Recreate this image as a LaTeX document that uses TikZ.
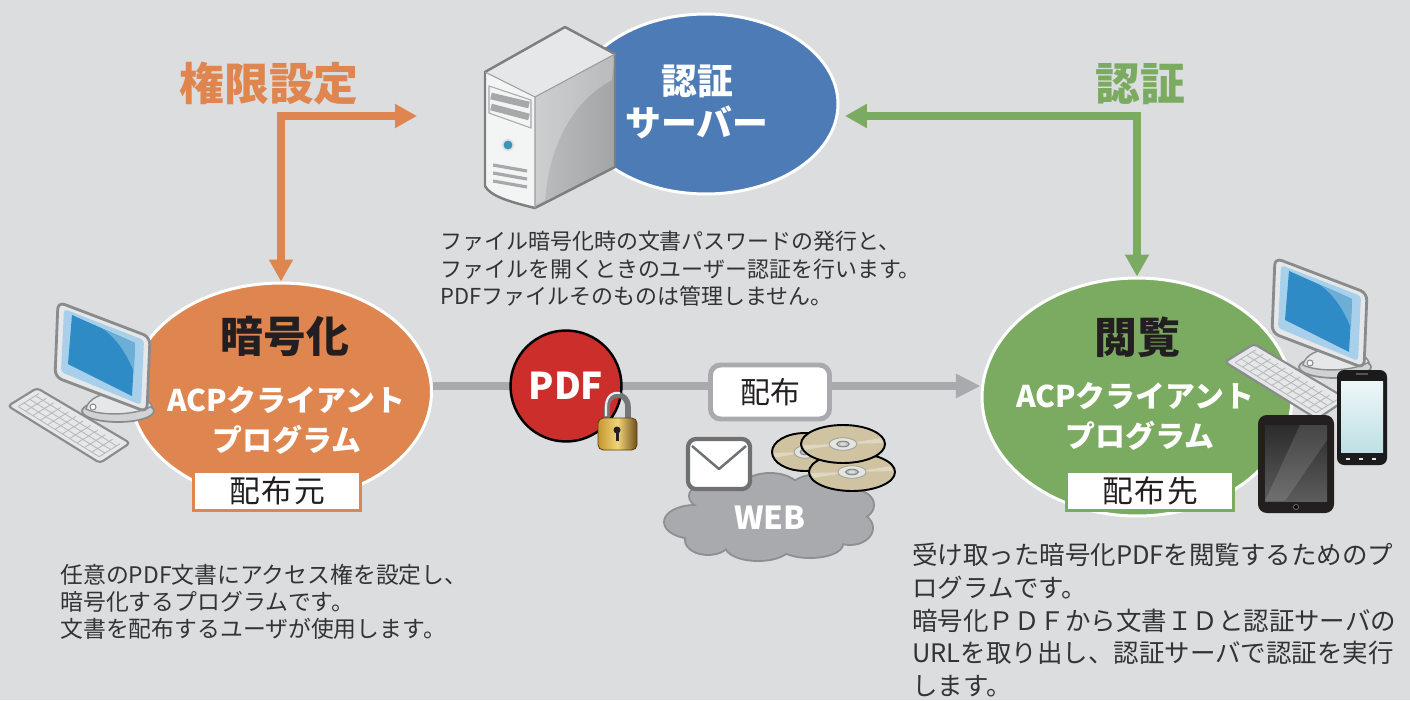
\documentclass[tikz,border=0pt]{standalone}
\usepackage{fontspec}
\setmainfont{Noto Sans CJK JP}
\usetikzlibrary{shapes.geometric,arrows.meta,calc}

\definecolor{bg}{HTML}{DCDDDF}
\definecolor{acpOrange}{HTML}{DF8650}
\definecolor{acpGreen}{HTML}{7BAA61}
\definecolor{acpBlue}{HTML}{4D7BB6}
\definecolor{linkGray}{HTML}{A9AAAD}
\definecolor{pdfRed}{HTML}{CC2E2B}
\definecolor{bodyText}{HTML}{333333}
\definecolor{labelInk}{HTML}{231F20}
\definecolor{frameGray}{HTML}{8A8B8D}
\definecolor{panelGray}{HTML}{E6E7E8}
\definecolor{slotGray}{HTML}{A7A8AA}
\definecolor{screenBlue}{HTML}{2E8BC6}
\definecolor{bezelBlue}{HTML}{A9D0EA}
\definecolor{discBeige}{HTML}{CFC3A2}
\definecolor{goldLeft}{HTML}{C4962F}
\definecolor{goldMid}{HTML}{F1D57A}
\definecolor{goldRight}{HTML}{6E5018}
\definecolor{goldEdge}{HTML}{5A4210}
\definecolor{cloudEdge}{HTML}{8E8F92}
\definecolor{mailGray}{HTML}{6F7072}
\definecolor{hubRing}{HTML}{9FA39B}
\definecolor{hubFace}{HTML}{E4E4E2}
\definecolor{hubEdge}{HTML}{7E807C}
\definecolor{hubCore}{HTML}{BDBFBC}
\definecolor{sideLight}{HTML}{BDBEC0}
\definecolor{sideDark}{HTML}{A3A4A6}
\definecolor{frontFace}{HTML}{F3F4F4}
\definecolor{lampBlue}{HTML}{3E93B8}
\definecolor{lampRing}{HTML}{E0E1E2}
\definecolor{caseEdge}{HTML}{7D7E80}
\definecolor{caseSeam}{HTML}{9A9B9D}
\definecolor{phoneBody}{HTML}{1B1B1B}
\definecolor{phoneTop}{HTML}{EEF7F8}
\definecolor{phoneBottom}{HTML}{BEE0E4}
\definecolor{phoneSlot}{HTML}{555555}
\definecolor{tabBody}{HTML}{231F1F}
\definecolor{tabTop}{HTML}{2C2C2C}
\definecolor{tabBottom}{HTML}{5C5C5C}
\definecolor{tabButton}{HTML}{6A6A6A}

% desktop computer: monitor, stand and keyboard (local pixel coordinates)
\newcommand\desktopicon{%
  % stand
  \draw[frameGray, line width=1pt, fill=panelGray!80!gray]
    (118,411) ellipse [x radius=36, y radius=11];
  \draw[frameGray, line width=0.8pt, fill=panelGray]
    (86,409) .. controls (90,388) and (142,386) .. (152,406)
    .. controls (135,416) and (100,416) .. cycle;
  \draw[frameGray, line width=0.6pt, fill=white] (93,407) circle (3);
  % monitor
  \draw[frameGray, line width=1.6pt, fill=panelGray, rounded corners=4]
    (58,302) -- (150,337) -- (147,412) -- (55,377) -- cycle;
  \fill[bezelBlue, rounded corners=2]
    (64,309) -- (144,340) -- (141,405) -- (61,372) -- cycle;
  \fill[screenBlue] (72,315) -- (135,343) -- (132,396) -- (68,364) -- cycle;
  \fill[screenBlue!70!white]
    (103,329) -- (135,343) -- (134,372) .. controls (126,352) and (116,338) .. cycle;
  % keyboard
  \draw[frameGray, line width=1.2pt, fill=panelGray, rounded corners=2]
    (8,406) -- (37,388) -- (130,443) -- (100,463) -- cycle;
  \foreach \t in {0.16,0.36,0.56,0.76}
    \draw[slotGray!80, line width=0.5pt]
      ({8+92*0.06+29*\t},{406+57*0.06-18*\t}) -- ({8+92*0.94+29*\t},{406+57*0.94-18*\t});
  \foreach \s in {0.06,0.14,...,0.95}
    \draw[slotGray!80, line width=0.5pt]
      ({8+92*\s+29*0.16},{406+57*\s-18*0.16}) -- ({8+92*\s+29*0.88},{406+57*\s-18*0.88});
}

\tikzset{
  bubble/.style={ellipse, draw=white, line width=1.7pt, inner sep=0pt},
  titletext/.style={font=\fontsize{24.4pt}{28pt}\selectfont\bfseries, text=labelInk},
  progtext/.style={font=\fontsize{17pt}{20pt}\selectfont\bfseries, text=white},
  tagbox/.style={draw, fill=white, line width=1.7pt, minimum width=3.34cm,
    minimum height=0.78cm, inner sep=0pt,
    font=\fontsize{17.5pt}{20pt}\selectfont\addfontfeature{LetterSpace=6}, text=labelInk},
  headtext/.style={font=\fontsize{25.5pt}{30pt}\selectfont\bfseries},
  flowline/.style={line width=4.5pt,
    {Triangle[length=12.5pt,width=13pt]}-{Triangle[length=12.5pt,width=13pt]}},
  note/.style={anchor=north west, inner sep=0pt, align=left, text=bodyText},
}

\begin{document}
\begin{tikzpicture}[x=0.02cm,y=-0.02cm]
\fill[bg] (0,0) rectangle (1410,700);
\useasboundingbox (0,0) rectangle (1410,700);

% main bubbles
\node[bubble, fill=acpBlue, minimum width=5.28cm, minimum height=3.6cm] (auth) at (706,104) {};
\node[bubble, fill=acpOrange, minimum width=6.02cm, minimum height=4.36cm] (enc) at (281,392) {};
\node[bubble, fill=acpGreen, minimum width=6.2cm, minimum height=4.76cm] (view) at (1137,397) {};

% permission / authentication arrows
\coordinate (oend) at (417,116);
\coordinate (gend) at (845,116);
\draw[flowline, acpOrange] (enc.north) -- (enc.north |- oend) -- (oend);
\draw[flowline, acpGreen] (gend) -- (view.north |- gend) -- (view.north);
\node[headtext, text=acpOrange] (permLabel) at (269,83) {権限設定};
\node[headtext, text=acpGreen] (authLabel) at (1140,84) {認証};

% distribution link
\node[circle, minimum size=2.22cm, inner sep=0pt] (pdf) at (566,386) {};
\draw[linkGray, line width=5.1pt, -{Triangle[length=14pt,width=13pt]}]
  (enc.east |- pdf.center) -- (view.west |- pdf.center);
\node[circle, fill=pdfRed, draw=black, line width=1.4pt, minimum size=2.22cm, inner sep=0pt,
  font=\fontsize{21pt}{24pt}\selectfont\bfseries, text=white] (pdfT) at (pdf.center) {PDF};
\node[draw=linkGray, line width=2.8pt, fill=white, rounded corners=0.2cm,
  minimum width=2.38cm, minimum height=1.08cm, inner sep=0pt,
  font=\fontsize{17pt}{20pt}\selectfont, text=labelInk] (dist) at (770,392) {配布};

% padlock
\draw[slotGray!70!black, line width=3.2pt]
  (607,420) -- (607,407) .. controls (607,391) and (628,391) .. (628,407) -- (628,420);
\draw[white!85!gray, line width=1.2pt]
  (606,416) -- (606,407) .. controls (606,393) and (616,392) .. (620,393);
\shade[left color=goldLeft, right color=goldRight, middle color=goldMid, rounded corners=3]
  (598,418) rectangle (637,450);
\draw[goldEdge, line width=0.5pt, rounded corners=3] (598,418) rectangle (637,450);
\fill[labelInk] (617,430) circle (3.5);
\fill[labelInk] (615.5,431) rectangle (618.5,441);

% web cloud
\def\cloudparts{
  (770,520) ellipse [x radius=85, y radius=28]
  (695,522) ellipse [x radius=30, y radius=16]
  (708,540) ellipse [x radius=22, y radius=14]
  (758,546) ellipse [x radius=32, y radius=14]
  (810,544) ellipse [x radius=32, y radius=13]
  (850,528) ellipse [x radius=22, y radius=16]
  (855,505) ellipse [x radius=18, y radius=14]
  (820,490) ellipse [x radius=30, y radius=15]
  (770,491) ellipse [x radius=30, y radius=17]
  (720,496) ellipse [x radius=30, y radius=15]}
\draw[cloudEdge, line width=2.2pt] \cloudparts;
\fill[linkGray] \cloudparts;
\node[font=\fontsize{18pt}{22pt}\selectfont\bfseries, text=white] (web) at (770,518) {WEB};

% envelope
\draw[mailGray, line width=2.4pt, fill=white, rounded corners=0.16cm] (688,439) rectangle (750,489);
\draw[mailGray, line width=1.4pt, line join=round] (692,446) -- (719,469) -- (746,446);

% discs
\foreach \cx/\cy/\rx/\ry in {805/452/33/19, 852/472/43/19, 843/444/42/19}{
  \draw[black, line width=1.1pt, fill=discBeige] (\cx,\cy) ellipse [x radius=\rx, y radius=\ry];
  \fill[white, opacity=0.35] (\cx,\cy) -- ({\cx+\rx*0.9},{\cy-\ry*0.3}) -- ({\cx+\rx*0.95},{\cy-\ry*0.05}) -- cycle;
  \fill[white, opacity=0.35] (\cx,\cy) -- ({\cx-\rx*0.9},{\cy+\ry*0.3}) -- ({\cx-\rx*0.95},{\cy+\ry*0.05}) -- cycle;
  \draw[hubRing, line width=0.5pt, fill=hubFace] (\cx,\cy) ellipse [x radius={\rx*0.33}, y radius={\ry*0.33}];
  \draw[hubEdge, line width=0.5pt, fill=hubCore] (\cx,\cy) ellipse [x radius={\rx*0.15}, y radius={\ry*0.15}];
  \fill[bg] (\cx,\cy) ellipse [x radius={\rx*0.07}, y radius={\ry*0.07}];
}

% authentication server
\shade[left color=sideLight, right color=sideDark]
  (535,97) -- (615,54) -- (615,167) -- (535,208) -- cycle;
\fill[white, opacity=0.25] (545,200) .. controls (550,140) and (575,100) .. (612,80) -- (615,54) -- (535,97) -- (535,205) -- cycle;
\fill[panelGray] (485,72) -- (565,27) -- (615,54) -- (535,97) -- cycle;
\fill[frontFace] (485,72) -- (535,97) -- (535,208) .. controls (510,202) and (490,196) .. (485,186) -- cycle;
\draw[slotGray, line width=0.6pt] (489,86) -- (531,100) -- (531,128) -- (489,113) -- cycle;
\draw[slotGray, line width=3.8pt] (491,96) -- (529,105);
\draw[slotGray, line width=3.8pt] (491,107) -- (529,117);
\draw[lampRing, line width=1pt, fill=lampBlue] (508,145) circle (5.5);
\foreach \dy in {0,8,16}
  \draw[slotGray, line width=1.8pt] (493,{165+\dy}) -- (527,{171+\dy});
\draw[caseEdge, line width=1.4pt, line join=round]
  (485,72) -- (565,27) -- (615,54) -- (615,167) -- (535,208)
  .. controls (510,202) and (490,196) .. (485,186) -- cycle;
\draw[caseSeam, line width=0.6pt] (485,72) -- (535,97) -- (615,54) (535,97) -- (535,208);

% client machines
\desktopicon
\begin{scope}[shift={(1217,-44)}]
  \desktopicon
\end{scope}
% smartphone
\fill[phoneBody, rounded corners=4] (1337,370) rectangle (1387,465);
\shade[top color=phoneTop, bottom color=phoneBottom] (1341,381) rectangle (1383,452);
\fill[phoneSlot] (1356,373) rectangle (1368,375);
\foreach \bx in {1348,1361,1374}
  \fill[white!80!gray] ({\bx-2},458) rectangle ({\bx+2},460);
% tablet
\fill[tabBody, rounded corners=5] (1258,415) rectangle (1334,513);
\shade[top color=tabTop, bottom color=tabBottom] (1265,425) rectangle (1327,501);
\fill[white, opacity=0.12] (1265,501) -- (1300,425) -- (1327,425) -- (1327,440) -- (1285,501) -- cycle;
\draw[tabButton, line width=0.5pt, fill=black] (1296,507) circle (2.5);

% bubble captions
\node[font=\fontsize{20.4pt}{24pt}\selectfont\bfseries, text=white] (authT1) at (697,81) {認証};
\node[font=\fontsize{20.4pt}{24pt}\selectfont\bfseries, text=white] (authT2) at (697,122) {サーバー};

\node[titletext] (encTitle) at (285,336) {暗号化};
\node[progtext] (encProg1) at (286,400) {ACPクライアント};
\node[progtext] (encProg2) at (287,440) {プログラム};
\node[tagbox, draw=acpOrange] (encTag) at (277,491) {配布元};

\node[titletext] (viewTitle) at (1137,337) {閲覧};
\node[progtext] (viewProg1) at (1135,396) {ACPクライアント};
\node[progtext] (viewProg2) at (1140,436) {プログラム};
\node[tagbox, draw=acpGreen] (viewTag) at (1150,491) {配布先};

% descriptions
\node[note, font=\fontsize{12.5pt}{15.6pt}\selectfont] (authNote) at (440,231)
  {ファイル暗号化時の文書パスワードの発行と、\\ファイルを開くときのユーザー認証を行います。\\PDFファイルそのものは管理しません。};
\node[note, font=\fontsize{13pt}{15.3pt}\selectfont] (encNote) at (60,564)
  {任意のPDF文書にアクセス権を設定し、\\暗号化するプログラムです。\\文書を配布するユーザが使用します。};
\node[note, font=\fontsize{14.5pt}{18.6pt}\selectfont] (viewNote) at (912,543)
  {受け取った暗号化PDFを閲覧するためのプ\\ログラムです。\\暗号化ＰＤＦから文書ＩＤと認証サーバの\\URLを取り出し、認証サーバで認証を実行\\します。};
\end{tikzpicture}
\end{document}
